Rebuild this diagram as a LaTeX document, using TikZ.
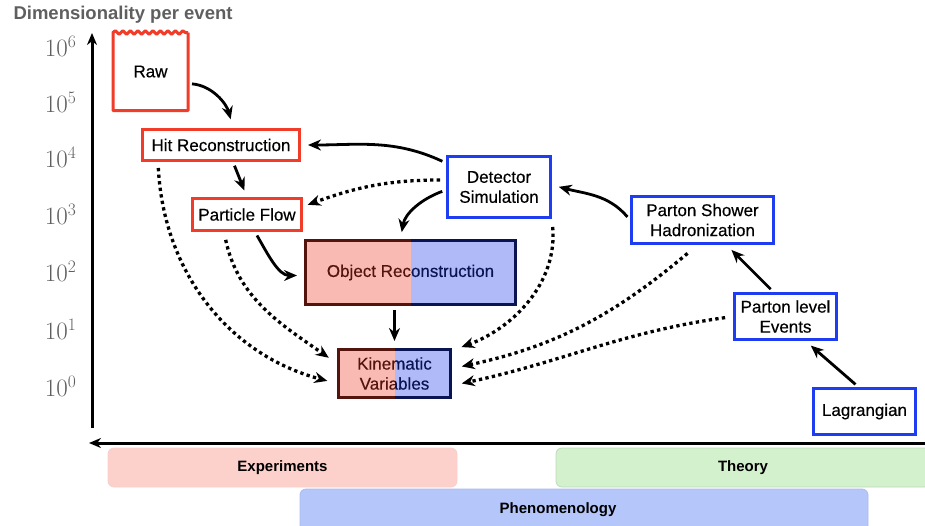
\documentclass[tikz,border=0pt]{standalone}
\usepackage{fontspec}
\newfontfamily\boxfont{Liberation Sans}[FakeBold=0.4]
\newfontfamily\headfont{Liberation Sans}
\usetikzlibrary{arrows.meta, decorations.pathmorphing}
\definecolor{boxred}{RGB}{240,60,40}
\definecolor{boxblue}{RGB}{30,60,240}
\definecolor{expfill}{RGB}{252,208,203}
\definecolor{theofill}{RGB}{211,241,204}
\definecolor{phenfill}{RGB}{180,198,250}
\definecolor{axisgray}{RGB}{95,95,95}
\tikzset{
    box/.style={draw, line width=3pt, fill=white, align=center,
        font=\boxfont\fontsize{17}{20}\selectfont},
    redbox/.style={box, draw=boxred},
    bluebox/.style={box, draw=boxblue},
    mixbox/.style={box, draw=black},
    flow/.style={line width=2.8pt, -{Stealth[length=13pt,width=11pt]}, shorten <=4pt, shorten >=7pt},
    feed/.style={line width=3.3pt, dash pattern=on 3.3pt off 3.3pt, -{Stealth[length=13pt,width=11pt]}, shorten <=8pt, shorten >=10pt},
    band/.style={rounded corners=6pt, line width=0.8pt, minimum height=39pt},
    bandtext/.style={font=\headfont\bfseries\fontsize{15}{18}\selectfont},
    tick/.style={anchor=east, text=axisgray, font=\fontsize{25}{27}\selectfont},
}
\begin{document}
\begin{tikzpicture}[x=1pt, y=1pt]
    \useasboundingbox (0,0) rectangle (925,-525);
    % axes
    \node[anchor=west, text=axisgray, font=\headfont\bfseries\fontsize{18.5}{22}\selectfont] (title) at (10,-15) {Dimensionality per event};
    \draw[line width=3pt, -{Stealth[length=12pt,width=10pt]}] (92,-428) -- (92,-33);
    \draw[line width=3pt, -{Stealth[length=12pt,width=10pt]}] (925,-443) -- (89,-443);
    \foreach \e/\y in {6/46, 5/102, 4/157, 3/214, 2/271, 1/329, 0/386}
        \node[tick] (t\e) at (80,-\y) {10\textsuperscript{\e}};
    % boxes
    \node[redbox, draw=none, minimum width=72pt, minimum height=75pt] (raw) at (150.5,-71.5) {Raw};
    \draw[line width=3pt, boxred, line join=round] (raw.north east) -- (raw.south east) -- (raw.south west) -- (raw.north west)
        decorate[decoration={snake, amplitude=1.8pt, segment length=7.5pt}] {-- (raw.north east)};
    \node[redbox, minimum width=157pt, minimum height=31pt] (hit) at (221,-145) {Hit Reconstruction};
    \node[redbox, minimum width=109pt, minimum height=32pt] (pflow) at (247,-214.5) {Particle Flow};
    \node[mixbox, minimum width=210pt, minimum height=64pt] (obj) at (410.5,-272.5) {Object Reconstruction};
    \node[mixbox, minimum width=112pt, minimum height=48pt] (kin) at (394.5,-373.5) {Kinematic\\Variables};
    \node[bluebox, minimum width=103pt, minimum height=61pt] (det) at (499,-187) {Detector\\Simulation};
    \node[bluebox, minimum width=142pt, minimum height=47pt] (shower) at (702.5,-220) {Parton Shower\\Hadronization};
    \node[bluebox, minimum width=102pt, minimum height=46pt] (plevel) at (785.5,-316.5) {Parton level\\Events};
    \node[bluebox, minimum width=102pt, minimum height=46pt] (lag) at (864.5,-411.5) {Lagrangian};
    % shading of the mixed boxes
    \fill[boxred, opacity=.35] (obj.north west) rectangle (obj.south);
    \fill[boxblue, opacity=.35] (obj.north) rectangle (obj.south east);
    \fill[boxred, opacity=.35] (kin.north west) rectangle (kin.south);
    \fill[boxblue, opacity=.35] (kin.north) rectangle (kin.south east);
    % solid arrows
    \draw[flow, shorten >=9pt] ([yshift=-12pt]raw.east) to[out=-5,in=105] ([xshift=12pt]hit.north);
    \draw[flow] ([yshift=24pt]det.west) to[out=155,in=0] (hit.east);
    \draw[flow] ([xshift=12pt]hit.south) -- (pflow.north);
    \draw[flow] ([yshift=-3pt]det.west) to[out=200,in=80] ([xshift=-10pt]obj.north);
    \draw[flow] ([xshift=8pt]pflow.south) to[out=-60,in=180] ([yshift=-3pt]obj.west);
    \draw[flow] (obj.south -| kin.north) -- (kin.north);
    \draw[flow] (shower.west) to[out=130,in=-15] ([yshift=2pt]det.east);
    \draw[flow] ([xshift=-12pt]plevel.north) -- ([xshift=24pt]shower.south);
    \draw[flow] ([xshift=-6pt]lag.north) -- ([xshift=20pt]plevel.south);
    % dotted arrows
    \draw[feed, shorten <=6pt, shorten >=5pt] ([yshift=7pt]det.west) to[out=180,in=20] ([yshift=8pt]pflow.east);
    \draw[feed, shorten <=6pt] ([xshift=-63pt]hit.south) to[out=-87,in=165] ([yshift=-10pt]kin.west);
    \draw[feed] ([xshift=-23pt]pflow.south) to[out=-78,in=145] ([yshift=10pt]kin.west);
    \draw[feed] ([xshift=53pt]det.south) to[out=-85,in=20] ([yshift=23pt]kin.east);
    \draw[feed, shorten <=13pt] ([xshift=-5pt]shower.south) to[out=-140,in=12] ([yshift=5pt]kin.east);
    \draw[feed] (plevel.west) to[out=188,in=12] ([yshift=-12pt]kin.east);
    % bands
    \node[band, fill=expfill, draw=boxred!25, minimum width=349pt] (exp) at (282.5,-467.5) {};
    \node[bandtext] at (exp) {Experiments};
    \node[band, fill=theofill, draw=theofill!90!black, minimum width=374pt] (theo) at (743,-467.5) {};
    \node[bandtext] at (theo) {Theory};
    \node[band, fill=phenfill, draw=phenfill!95!black, minimum width=568pt, minimum height=42pt] (phen) at (584,-510) {};
    \node[bandtext] at (558,-510) {Phenomenology};
\end{tikzpicture}
\end{document}
